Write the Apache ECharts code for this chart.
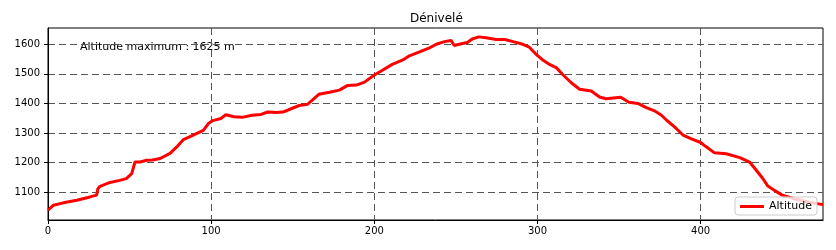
<!DOCTYPE html>
<html>
<head>
<meta charset="utf-8">
<script src="https://cdn.jsdelivr.net/npm/echarts@6/dist/echarts.min.js"></script>
<style>html,body{margin:0;padding:0;background:#fff}#c{width:836px;height:250px}</style>
</head>
<body>
<div id="c"></div>
<script>
const distances = [0,3.3,9.4,17.6,25.7,29.8,30.6,31.9,38,44,48,51.3,53.3,56.4,60.5,64,68.7,74.8,78.9,83,89,95.2,98.3,101,106,109,114,119,125,130.6,134.7,140,144,149,154,159,162,166,172.5,178.6,183.7,189,194,200,205,211,217.5,221.5,227.7,233.8,238,243,247,249,252,257,260,264,268.5,274.7,280,285,291,295,299,303,307,311.5,315.6,320.7,325.8,333,338,342,351,356,361.5,366.7,371.7,376,379,384,389,394,400,403,408.5,415.7,424,430,434,438,441,445,450,458,466.5,475];
const altitudes = [1039,1056,1064,1073,1084,1090,1112,1120,1133,1140,1146,1163,1202,1202,1208,1209,1214,1231,1253,1278,1293,1309,1332,1342,1349,1362,1355,1353,1360,1363,1371,1369,1371,1382,1393,1397,1411,1431,1438,1445,1461,1462,1472,1496,1512,1532,1547,1561,1574,1588,1600,1609,1613,1596,1600,1606,1618,1625,1622,1616,1616,1609,1600,1590,1567,1548,1533,1521,1497,1470,1448,1442,1422,1416,1421,1404,1400,1386,1375,1360,1344,1321,1294,1281,1268,1255,1233,1230,1217,1202,1175,1147,1122,1107,1090,1077,1066,1058];
const yTicks = [1100,1200,1300,1400,1500,1600];
const xTicks = [0,100,200,300,400];
const titleText = 'Dénivelé';
const seriesName = 'Altitude';
const annotation = 'Altitude maximum : 1625 m';

const FONT = 'DejaVu Sans';
const chart = echarts.init(document.getElementById('c'), null, {renderer: 'canvas'});
const gridLine = {show: true, lineStyle: {color: '#555', type: [7, 4], width: 1}};
chart.setOption({
  animation: false,
  title: {text: titleText, left: 405, top: 8,
    textStyle: {fontFamily: FONT, fontSize: 12, fontWeight: 'normal', color: '#000'}},
  grid: {left: 48, right: 13, top: 28, bottom: 30, show: true, borderColor: '#000', borderWidth: 1, backgroundColor: 'transparent'},
  legend: {
    data: [seriesName], right: 19, bottom: 35, orient: 'horizontal',
    backgroundColor: 'rgba(255,255,255,0.8)', borderColor: '#ccc', borderWidth: 1, borderRadius: 3,
    padding: [4, 5, 3, 5], itemWidth: 24, itemHeight: 3, itemGap: 6, icon: 'rect',
    textStyle: {fontFamily: FONT, fontSize: 11, color: '#000'}
  },
  xAxis: {
    type: 'value', min: 0, max: 475,
    axisLine: {show: true, onZero: false, lineStyle: {color: '#000', width: 1}},
    axisTick: {show: true, inside: false, length: 4, customValues: xTicks, lineStyle: {color: '#000'}},
    axisLabel: {fontFamily: FONT, fontSize: 10, color: '#000', margin: 6, customValues: xTicks,
      formatter: v => String(v)},
    splitLine: gridLine
  },
  yAxis: {
    type: 'value', min: 1006, max: 1655,
    axisLine: {show: true, onZero: false, lineStyle: {color: '#000', width: 1}},
    axisTick: {show: true, inside: false, length: 4, customValues: yTicks, lineStyle: {color: '#000'}},
    axisLabel: {fontFamily: FONT, fontSize: 10, color: '#000', margin: 8, customValues: yTicks,
      formatter: v => String(v)},
    splitLine: gridLine
  },
  series: [{
    name: seriesName, type: 'line', showSymbol: false, smooth: false,
    data: distances.map((d, i) => [d, altitudes[i]]),
    lineStyle: {color: '#f00', width: 3},
    itemStyle: {color: '#f00'},
    z: 3
  }],
  graphic: [{
    type: 'text', left: 80, top: 42,
    style: {text: annotation, fontFamily: FONT, fontSize: 11, fill: '#000'}
  }]
});
</script>
</body>
</html>
